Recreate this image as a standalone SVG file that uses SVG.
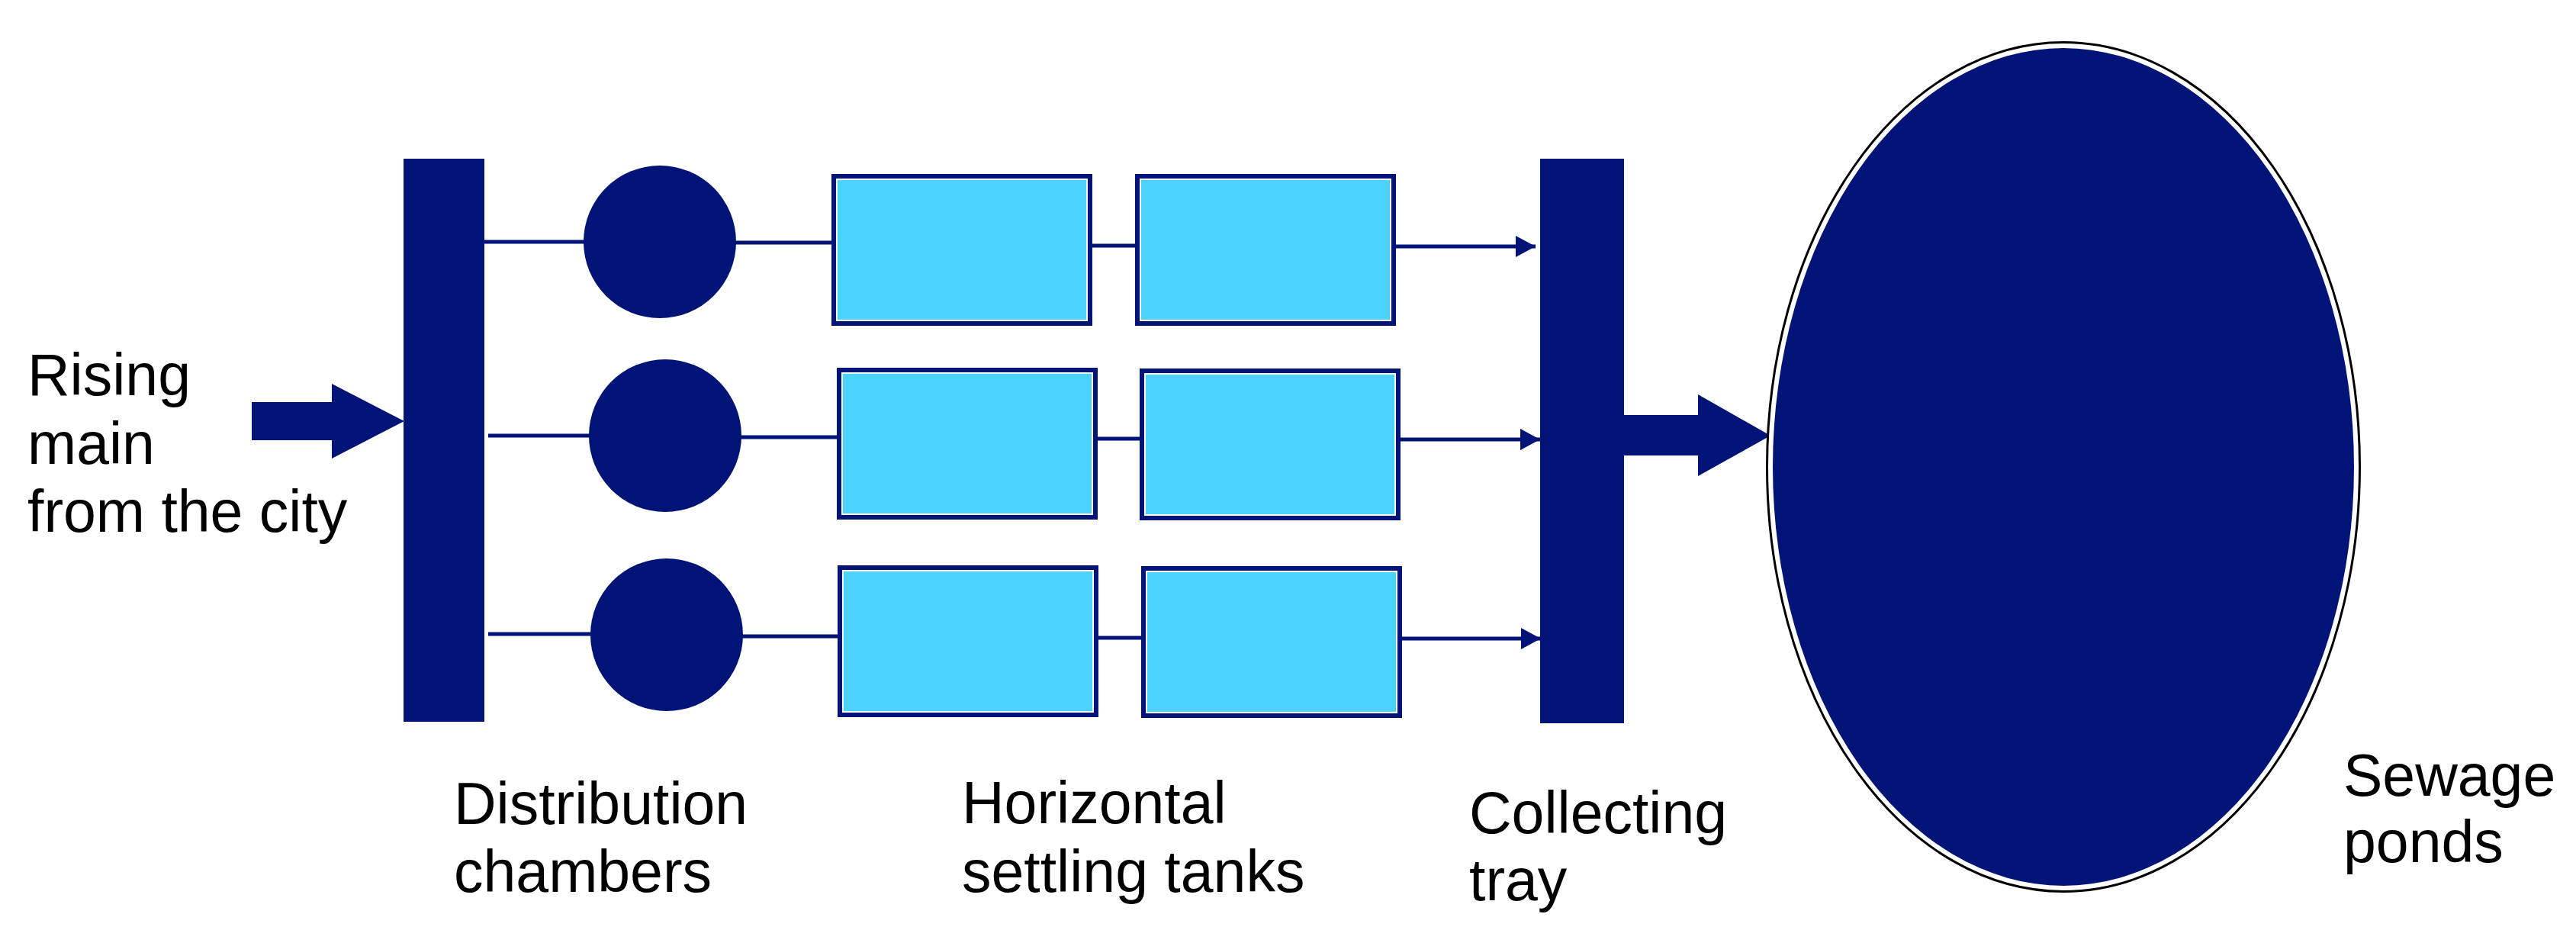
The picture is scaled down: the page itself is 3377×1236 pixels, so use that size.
<svg xmlns="http://www.w3.org/2000/svg" width="3377" height="1236" viewBox="0 0 3377 1236">
<style>
.navy{fill:#001478}
.line{stroke:#001478;stroke-width:5;fill:none}
.lbl{font-family:"Liberation Sans",Arial,sans-serif;font-size:77px;fill:#000}
.tank-o{fill:#001478}
.tank-w{fill:#ffffff}
.tank-c{fill:#4bd2ff}
</style>
<defs>
<marker id="ah" markerUnits="userSpaceOnUse" markerWidth="28" markerHeight="28" refX="26" refY="14" orient="auto">
<path d="M0,0 L26,14 L0,28 Z" fill="#001478"/>
</marker>
<g id="tankShape">
<rect class="tank-o" x="0" y="0" width="342" height="199"/>
<rect class="tank-w" x="6" y="6" width="330" height="187"/>
<rect class="tank-c" x="8" y="8" width="326" height="183"/>
</g>
</defs>
<rect width="3377" height="1236" fill="#ffffff"/>

<g id="connectors">
<!-- row 1 -->
<line class="line" x1="634" y1="317" x2="770" y2="317"/>
<line class="line" x1="960" y1="318" x2="1092" y2="318"/>
<line class="line" x1="1430" y1="322" x2="1490" y2="322"/>
<line class="line" x1="1830" y1="323" x2="2013" y2="323" marker-end="url(#ah)"/>
<!-- row 2 -->
<line class="line" x1="640" y1="571" x2="777" y2="571"/>
<line class="line" x1="967" y1="573" x2="1099" y2="573"/>
<line class="line" x1="1436" y1="575" x2="1496" y2="575"/>
<line class="line" x1="1834" y1="576" x2="2019" y2="576" marker-end="url(#ah)"/>
<!-- row 3 -->
<line class="line" x1="640" y1="831" x2="779" y2="831"/>
<line class="line" x1="969" y1="834" x2="1100" y2="834"/>
<line class="line" x1="1439" y1="836" x2="1498" y2="836"/>
<line class="line" x1="1836" y1="837" x2="2020" y2="837" marker-end="url(#ah)"/>
<!-- block arrows -->
<polygon class="navy" points="330,527 435,527 435,503 530,552 435,601 435,577 330,577"/>
<polygon class="navy" points="2128,544 2226,544 2226,517 2321,571 2226,624 2226,597 2128,597"/>
</g>

<g id="rising-main">
<text class="lbl" x="36" y="518">Rising</text>
<text class="lbl" x="36" y="608">main</text>
<text class="lbl" x="36" y="697">from the city</text>
</g>

<g id="distribution-bar">
<rect class="navy" x="529" y="208" width="106" height="738"/>
</g>

<g id="distribution-chambers">
<circle class="navy" cx="865" cy="317" r="100"/>
<circle class="navy" cx="872" cy="571" r="100"/>
<circle class="navy" cx="874" cy="832" r="100"/>
<text class="lbl" x="595" y="1080">Distribution</text>
<text class="lbl" x="595" y="1169">chambers</text>
</g>

<g id="settling-tanks">
<use href="#tankShape" x="1090" y="228"/>
<use href="#tankShape" x="1488" y="228"/>
<use href="#tankShape" x="1097" y="482"/>
<use href="#tankShape" x="1494" y="483"/>
<use href="#tankShape" x="1098" y="741"/>
<use href="#tankShape" x="1496" y="742"/>
<text class="lbl" x="1261" y="1079">Horizontal</text>
<text class="lbl" x="1261" y="1169">settling tanks</text>
</g>

<g id="collecting-tray">
<rect class="navy" x="2019" y="208" width="110" height="740"/>
<text class="lbl" x="1926" y="1092">Collecting</text>
<text class="lbl" x="1926" y="1180">tray</text>
</g>

<g id="sewage-ponds">
<ellipse cx="2705" cy="612" rx="388.5" ry="556.5" fill="#ffffff" stroke="#000000" stroke-width="3"/>
<ellipse class="navy" cx="2705" cy="612" rx="381" ry="549"/>
<text class="lbl" x="3072" y="1043">Sewage</text>
<text class="lbl" x="3072" y="1130">ponds</text>
</g>
</svg>
